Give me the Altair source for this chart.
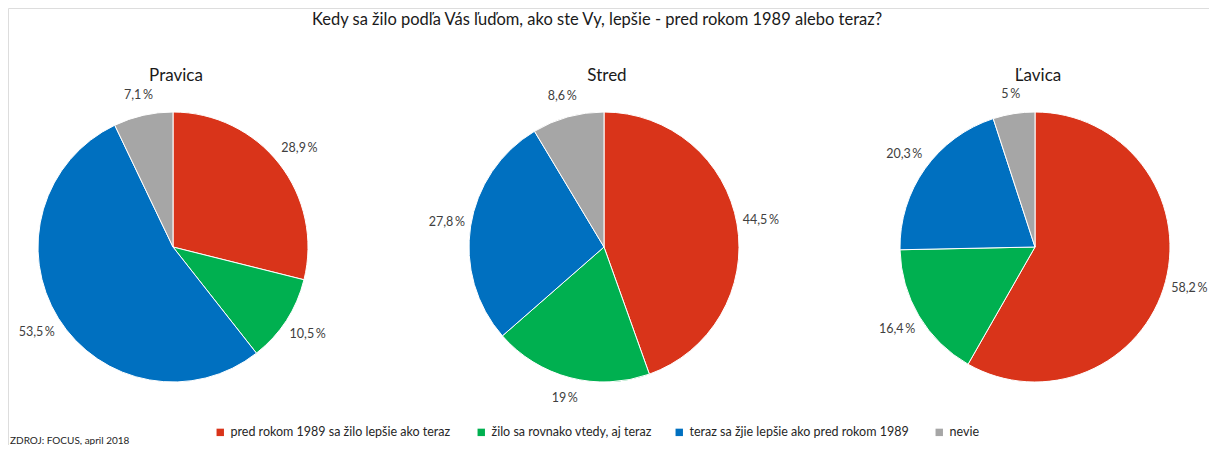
import math
import altair as alt
import pandas as pd

groups = ["Pravica", "Stred", "Ľavica"]
categories = [
    "pred rokom 1989 sa žilo lepšie  ako teraz",
    "žilo sa rovnako vtedy, aj teraz",
    "teraz sa žjie lepšie  ako pred rokom 1989",
    "nevie",
]
colors = ["#D9341A", "#00B050", "#0070C0", "#A6A6A6"]
pravica = [28.9, 10.5, 53.5, 7.1]
stred = [44.5, 19.0, 27.8, 8.6]
lavica = [58.2, 16.4, 20.3, 5.0]
title_text = ["Kedy sa žilo podľa Vás ľuďom, ako ste Vy, lepšie - pred rokom 1989 alebo teraz?"]
source_text = ["ZDROJ: FOCUS, april 2018"]

FONT = "Lato, sans-serif"

rows = []
for g, vals in zip(groups, [pravica, stred, lavica]):
    for i, (c, v) in enumerate(zip(categories, vals)):
        rows.append({
            "group": g, "cat": c, "value": v, "order": i,
            "label": ("%g" % v).replace(".", ",") + "\u2009%",
        })
df = pd.DataFrame(rows)

W, H = 1201, 437
CY = 239
xscale = alt.Scale(type="point", domain=groups, range=[165, 1027], padding=0)
tscale = alt.Scale(domain=[0, 1], range=[0, 2 * math.pi])

base = alt.Chart(df).transform_joinaggregate(
    total="sum(value)", groupby=["group"]
).transform_calculate(
    frac="datum.value / datum.total"
).transform_window(
    cum="sum(frac)", groupby=["group"], sort=[alt.SortField("order")],
    frame=[None, 0]
).transform_calculate(
    start="datum.cum - datum.frac", mid="datum.cum - datum.frac / 2"
).transform_calculate(
    rad="146 + abs(sin(datum.mid * 2 * PI)) * length(datum.label) * 2.0"
        " + abs(cos(datum.mid * 2 * PI)) * 8"
)

arcs = base.mark_arc(outerRadius=135, stroke="white", strokeWidth=1).encode(
    x=alt.X("group:N", scale=xscale, axis=None),
    y=alt.value(CY),
    theta=alt.Theta("start:Q", scale=tscale),
    theta2=alt.Theta2("cum:Q"),
    color=alt.Color(
        "cat:N",
        scale=alt.Scale(domain=categories, range=colors),
        legend=alt.Legend(
            title=None, orient="none", legendX=206, legendY=418,
            direction="horizontal", columns=4, columnPadding=21,
            symbolType="square", symbolSize=55, symbolStrokeWidth=0,
            labelFont=FONT, labelFontSize=12.5, labelColor="#262626",
            labelLimit=400,
        ),
    ),
    order=alt.Order("order:Q"),
)

labels = base.mark_text(font=FONT, fontSize=12.5, color="#404040").encode(
    x=alt.X("group:N", scale=xscale, axis=None),
    y=alt.value(CY),
    theta=alt.Theta("mid:Q", scale=tscale),
    radius=alt.Radius("rad:Q", scale=None),
    text="label:N",
)

gtitles = alt.Chart(pd.DataFrame({"group": groups})).mark_text(
    font=FONT, fontSize=17, color="#1a1a1a", dx=3
).encode(
    x=alt.X("group:N", scale=xscale, axis=None),
    y=alt.value(68),
    text="group:N",
)

ttl = alt.Chart(pd.DataFrame({"t": title_text})).mark_text(
    font=FONT, fontSize=16.5, color="#1a1a1a"
).encode(x=alt.value(589), y=alt.value(12), text="t:N")

src = alt.Chart(pd.DataFrame({"t": source_text})).mark_text(
    font=FONT, fontSize=10, color="#262626", align="left"
).encode(x=alt.value(2), y=alt.value(433), text="t:N")

chart = alt.layer(arcs, labels, gtitles, ttl, src).properties(
    width=W, height=H, background="white",
).configure_view(strokeWidth=0, stroke="transparent").configure(padding=0, autosize="none")

chart.save("out.html", embed_options={"renderer": "svg", "actions": False})
